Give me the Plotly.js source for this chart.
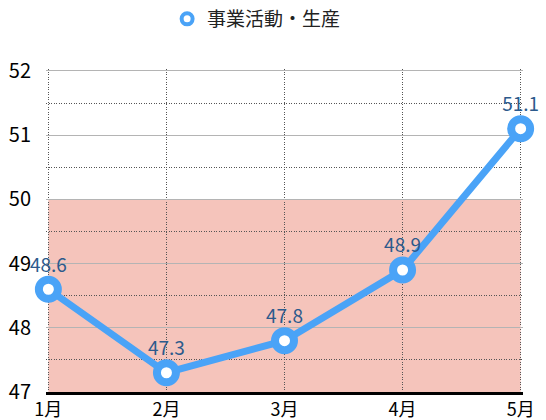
<!DOCTYPE html>
<html><head><meta charset="utf-8">
<script src="https://cdn.plot.ly/plotly-3.0.1.min.js"></script>
<style>body{margin:0}#c{width:546px;height:420px}</style>
</head><body><div id="c"></div>
<script>
const months = ['1月','2月','3月','4月','5月'];
const values = [48.6, 47.3, 47.8, 48.9, 51.1];
const labels = ['48.6','47.3','47.8','48.9','51.1'];
const seriesName = '事業活動・生産';
const bandLow = 47, bandHigh = 50;
const yMin = 47, yMax = 52;

const font = '"Noto Sans CJK JP", "Noto Sans", sans-serif';
const blue = '#4aa3f7';
const padX = 0.02, padY = 0.03;

const traces = [
  {
    x: months, y: values, text: labels, type: 'scatter', mode: 'lines+markers+text',
    textposition: 'top center', cliponaxis: false,
    textfont: {family: font, size: 19, color: '#2c5a8c'},
    line: {color: blue, width: 7},
    marker: {size: 19, color: '#ffffff', line: {color: blue, width: 8}},
    showlegend: false, hoverinfo: 'none'
  },
  {
    x: [null], y: [null], type: 'scatter', mode: 'markers', name: seriesName,
    marker: {size: 11, color: '#ffffff', line: {color: blue, width: 4}},
    hoverinfo: 'none'
  }
];

const layout = {
  width: 546, height: 420,
  margin: {l: 45.6, r: 22.6, t: 69.1, b: 28},
  paper_bgcolor: '#ffffff', plot_bgcolor: '#ffffff',
  font: {family: font, size: 16, color: '#000000'},
  showlegend: true,
  legend: {orientation: 'h', x: 0.47, xanchor: 'center', xref: 'container',
           y: 1, yanchor: 'top', yref: 'container',
           font: {family: font, size: 19, color: '#222222'}},
  xaxis: {
    type: 'category', range: [-padX, months.length - 1 + padX], fixedrange: true,
    showgrid: true, gridcolor: '#555555', griddash: '1px,1.5px', gridwidth: 1,
    showline: true, linecolor: '#000000', linewidth: 2.5,
    ticks: '', tickfont: {family: font, size: 18, color: '#000000'},
    zeroline: false
  },
  yaxis: {
    range: [yMin, yMax + padY], dtick: 1, tick0: yMin, fixedrange: true,
    showgrid: true, gridcolor: '#b4b4b4', gridwidth: 1,
    minor: {dtick: 0.5, showgrid: true, gridcolor: '#555555', griddash: '1px,1.5px', gridwidth: 1},
    ticks: '', ticklabelstandoff: 14,
    tickfont: {family: font, size: 20, color: '#000000'},
    zeroline: false, showline: false
  },
  shapes: [{
    type: 'rect', xref: 'x', x0: 0, x1: months.length - 1, yref: 'y', y0: bandLow, y1: bandHigh,
    fillcolor: '#f5c4bb', line: {width: 0}, layer: 'below'
  }]
};

Plotly.newPlot('c', traces, layout, {displayModeBar: false, staticPlot: true});
</script></body></html>
